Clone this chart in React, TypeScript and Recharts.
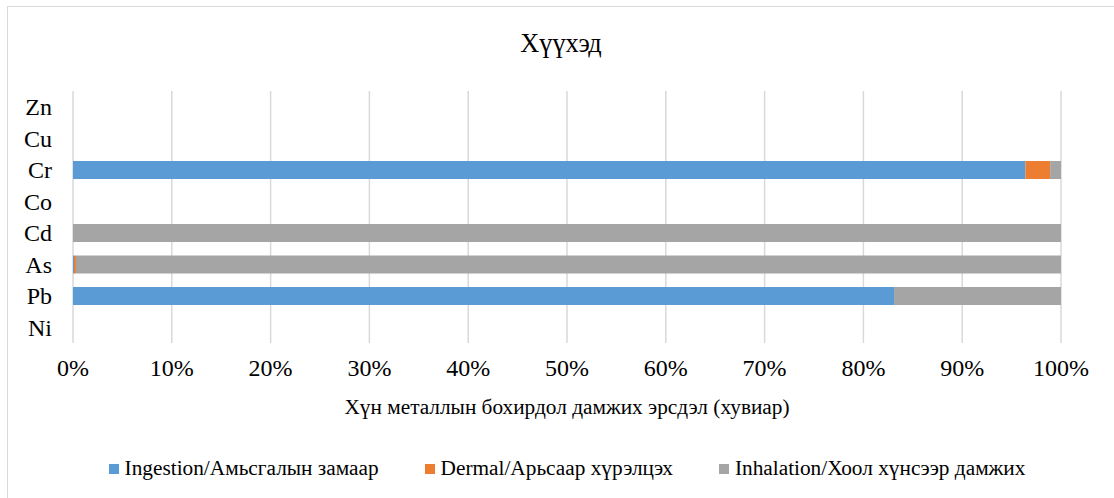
import React from "react";
import { BarChart, Bar, XAxis, YAxis, CartesianGrid } from "recharts";

const categories = ["Zn", "Cu", "Cr", "Co", "Cd", "As", "Pb", "Ni"];
const ingestion = [0, 0, 96.4, 0, 0, 0.1, 83.1, 0];
const dermal = [0, 0, 2.5, 0, 0, 0.2, 0, 0];
const inhalation = [0, 0, 1.1, 0, 100, 99.7, 16.9, 0];
const xTicks = [0, 10, 20, 30, 40, 50, 60, 70, 80, 90, 100];

const seriesNames = [
  "Ingestion/Амьсгалын замаар",
  "Dermal/Арьсаар хүрэлцэх",
  "Inhalation/Хоол хүнсээр дамжих",
];
const seriesColors = ["#5B9BD5", "#ED7D31", "#A5A5A5"];
const seriesKeys = ["ingestion", "dermal", "inhalation"];

const title = "Хүүхэд";
const xTitle = "Хүн металлын бохирдол дамжих эрсдэл (хувиар)";

const data = categories.map((c, i) => ({
  name: c,
  ingestion: ingestion[i],
  dermal: dermal[i],
  inhalation: inhalation[i],
}));

const FONT = "Liberation Serif";

export default function App() {
  return (
    <div
      style={{
        position: "absolute",
        left: 0,
        top: 0,
        width: 1114,
        height: 498,
        overflow: "hidden",
        background: "#fff",
        fontFamily: FONT,
        color: "#000",
      }}
    >
      <div
        style={{
          position: "absolute",
          left: 7,
          top: 6,
          width: 1200,
          height: 600,
          border: "1px solid #D9D9D9",
        }}
      />
      <div
        style={{
          position: "absolute",
          left: 0,
          width: 1122,
          top: 29,
          textAlign: "center",
          fontSize: 26.3,
          lineHeight: "30px",
          fontFamily: FONT,
        }}
      >
        {title}
      </div>
      <div style={{ position: "absolute", left: 0, top: 0 }}>
        <BarChart
          width={1114}
          height={498}
          data={data}
          layout="vertical"
          margin={{ top: 91, right: 53, left: 0, bottom: 125 }}
          barSize={18}
          style={{ fontFamily: FONT }}
        >
          <CartesianGrid horizontal={false} vertical={true} stroke="#D9D9D9" strokeWidth={1.5} />
          <XAxis
            type="number"
            domain={[0, 100]}
            ticks={xTicks}
            interval={0}
            height={30}
            axisLine={false}
            tickLine={false}
            tickSize={0}
            tickMargin={16}
            tickFormatter={(v: number) => `${v}%`}
            tick={{ fontSize: 24, fill: "#000", fontFamily: FONT }}
          />
          <YAxis
            type="category"
            dataKey="name"
            width={73}
            axisLine={false}
            tickLine={false}
            tickSize={0}
            tickMargin={21}
            interval={0}
            tick={{ fontSize: 24, fill: "#000", fontFamily: FONT }}
          />
          {seriesKeys.map((k, i) => (
            <Bar
              key={k}
              dataKey={k}
              stackId="a"
              fill={seriesColors[i]}
              name={seriesNames[i]}
              isAnimationActive={false}
            />
          ))}
        </BarChart>
      </div>
      <div
        style={{
          position: "absolute",
          left: 73,
          width: 988,
          top: 395,
          textAlign: "center",
          fontSize: 21.3,
          lineHeight: "25px",
          fontFamily: FONT,
        }}
      >
        {xTitle}
      </div>
      <div
        style={{
          position: "absolute",
          left: 73,
          width: 988,
          top: 456,
          display: "flex",
          justifyContent: "center",
          fontSize: 21.3,
          lineHeight: "25px",
          fontFamily: FONT,
        }}
      >
        {seriesNames.map((n, i) => (
          <div
            key={n}
            style={{
              display: "flex",
              alignItems: "center",
              marginLeft: i === 0 ? 0 : 46,
            }}
          >
            <span
              style={{
                display: "inline-block",
                width: 10,
                height: 10,
                background: seriesColors[i],
                marginRight: 6,
              }}
            />
            <span>{n}</span>
          </div>
        ))}
      </div>
    </div>
  );
}
